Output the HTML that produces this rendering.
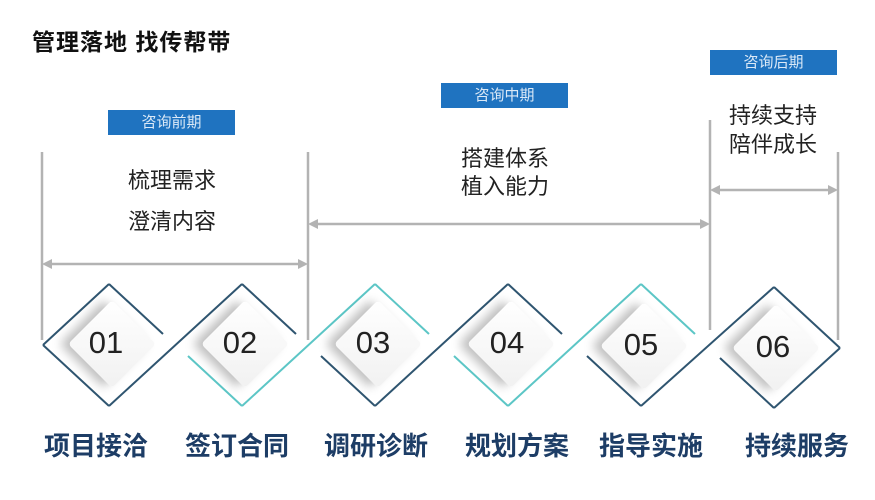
<!DOCTYPE html>
<html><head><meta charset="utf-8"><style>
body{margin:0;width:875px;height:500px;background:#fff;overflow:hidden;position:relative;font-family:"Liberation Sans","Noto Sans CJK SC",sans-serif}
.t{position:absolute;white-space:nowrap}
.tag{position:absolute;width:127px;height:25px;background:#1f73c0;color:#dbe9f7;font-size:15px;line-height:25px;text-align:center}
.mid{font-size:22px;color:#222;text-align:center;width:160px}
.bl{font-size:26px;font-weight:bold;color:#1d3d66;width:140px;text-align:center;top:426px}
.sq{position:absolute;width:62px;height:62px;background:linear-gradient(135deg,#fff,#f1f1f1);transform:rotate(45deg);border-radius:4px;box-shadow:-6px 6px 10px rgba(0,0,0,0.25)}
.num{position:absolute;width:100px;text-align:center;font-size:31px;color:#222}
</style></head><body>
<div class="t" style="left:32px;top:23px;font-size:23px;font-weight:bold;color:#111;letter-spacing:1px">管理落地 找传帮带</div>
<svg width="875" height="500" style="position:absolute;left:0;top:0">
<g stroke="#b3b3b3" stroke-width="2.5" fill="none">
<line x1="42" y1="152" x2="42" y2="340"/><line x1="308" y1="152" x2="308" y2="340"/>
<line x1="710" y1="120" x2="710" y2="330"/><line x1="838" y1="152" x2="838" y2="340"/>
<line x1="48" y1="264" x2="302" y2="264"/><line x1="314" y1="224" x2="704" y2="224"/><line x1="716" y1="190" x2="832" y2="190"/>
</g>
<g fill="#b3b3b3">
<path d="M42 264 l10 -5 v10z"/><path d="M308 264 l-10 -5 v10z"/>
<path d="M308 224 l10 -5 v10z"/><path d="M710 224 l-10 -5 v10z"/>
<path d="M710 190 l10 -5 v10z"/><path d="M838 190 l-10 -5 v10z"/>
</g>
<g fill="none" stroke-width="2">
<line x1="43" y1="345" x2="109" y2="284" stroke="#2f5570"/>
<line x1="109" y1="406" x2="242" y2="284" stroke="#2f5570"/>
<line x1="242" y1="406" x2="375" y2="284" stroke="#5cc6c6"/>
<line x1="375" y1="406" x2="508" y2="284" stroke="#2f5570"/>
<line x1="508" y1="406" x2="641" y2="284" stroke="#5cc6c6"/>
<line x1="641" y1="406" x2="774" y2="287" stroke="#2f5570"/>
<line x1="774" y1="408" x2="840" y2="348" stroke="#2f5570"/>
<line x1="774" y1="287" x2="840" y2="348" stroke="#2f5570"/>
<line x1="109" y1="284" x2="163" y2="334" stroke="#2f5570"/>
<line x1="242" y1="284" x2="296" y2="334" stroke="#2f5570"/>
<line x1="375" y1="284" x2="429" y2="334" stroke="#5cc6c6"/>
<line x1="508" y1="284" x2="562" y2="334" stroke="#2f5570"/>
<line x1="641" y1="284" x2="695" y2="334" stroke="#5cc6c6"/>
<line x1="43" y1="345" x2="109" y2="406" stroke="#2f5570"/>
<line x1="188" y1="356" x2="242" y2="406" stroke="#5cc6c6"/>
<line x1="321" y1="356" x2="375" y2="406" stroke="#2f5570"/>
<line x1="454" y1="356" x2="508" y2="406" stroke="#5cc6c6"/>
<line x1="587" y1="356" x2="641" y2="406" stroke="#2f5570"/>
<line x1="720" y1="358" x2="774" y2="408" stroke="#2f5570"/>
</g>
</svg>
<div class="tag" style="left:108px;top:110px">咨询前期</div>
<div class="tag" style="left:441px;top:83px">咨询中期</div>
<div class="tag" style="left:710px;top:50px">咨询后期</div>
<div class="t mid" style="left:92px;top:163px">梳理需求</div>
<div class="t mid" style="left:92px;top:204px">澄清内容</div>
<div class="t mid" style="left:425px;top:141px">搭建体系</div>
<div class="t mid" style="left:425px;top:169px">植入能力</div>
<div class="t mid" style="left:693px;top:98px">持续支持</div>
<div class="t mid" style="left:693px;top:127px">陪伴成长</div>
<div class="sq" style="left:81px;top:313px"></div>
<div class="sq" style="left:214px;top:313px"></div>
<div class="sq" style="left:347px;top:313px"></div>
<div class="sq" style="left:480px;top:313px"></div>
<div class="sq" style="left:613px;top:315px"></div>
<div class="sq" style="left:745px;top:317px"></div>
<div class="num" style="left:56px;top:325px">01</div>
<div class="num" style="left:190px;top:325px">02</div>
<div class="num" style="left:323px;top:325px">03</div>
<div class="num" style="left:457px;top:325px">04</div>
<div class="num" style="left:591px;top:327px">05</div>
<div class="num" style="left:723px;top:329px">06</div>
<div class="t bl" style="left:26px">项目接洽</div>
<div class="t bl" style="left:167px">签订合同</div>
<div class="t bl" style="left:306px">调研诊断</div>
<div class="t bl" style="left:447px">规划方案</div>
<div class="t bl" style="left:581px">指导实施</div>
<div class="t bl" style="left:727px">持续服务</div>
</body></html>
